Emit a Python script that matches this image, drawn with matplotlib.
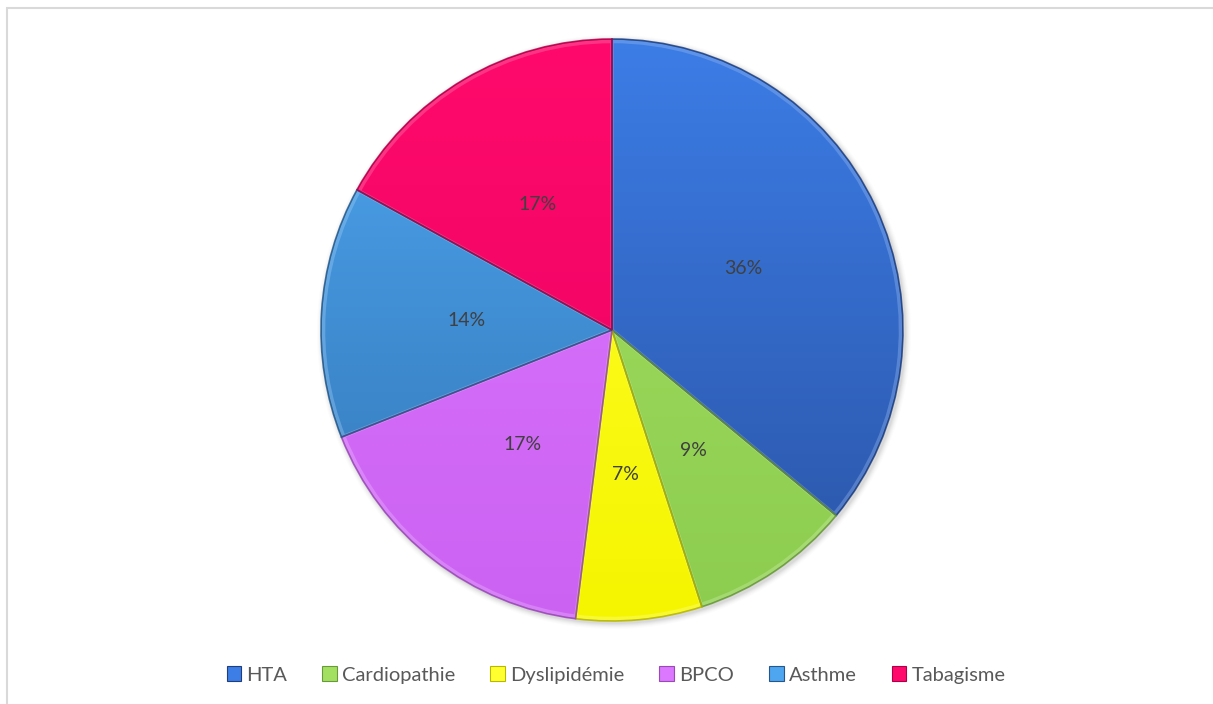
import numpy as np
import matplotlib
matplotlib.use("Agg")
import matplotlib.pyplot as plt
from matplotlib.colors import to_rgb, LinearSegmentedColormap
from matplotlib.patches import Rectangle, Patch, Circle, Wedge

categories = ["HTA", "Cardiopathie", "Dyslipidémie", "BPCO", "Asthme", "Tabagisme"]
shares = [36, 9, 7, 17, 14, 17]
colors_top = ["#3c7de6", "#a3e062", "#ffff30", "#db78ff", "#4ea6f0", "#ff0a6c"]
colors_bottom = ["#2a53a5", "#8ccc4e", "#f5f500", "#cc62f2", "#3274b5", "#e80060"]

W, H = 1213, 704
fig = plt.figure(figsize=(W / 100, H / 100), dpi=100)
ax = fig.add_axes([0, 0, 1, 1])

cx, cy, r = 612, 374, 291

# soft shadow under the pie
for k, a in zip(range(6, 0, -1), [0.015, 0.02, 0.03, 0.04, 0.05, 0.06]):
    ax.add_patch(Circle((cx + 2, cy - 2), r + k, color="0.3", alpha=a, lw=0, zorder=1))

wedges, texts = ax.pie(shares, center=(cx, cy), radius=r, startangle=90,
                       counterclock=False, labels=[f"{s}%" for s in shares],
                       labeldistance=0.5, frame=True,
                       wedgeprops=dict(linewidth=0))

grad = np.linspace(0, 1, 256).reshape(-1, 1)
for w, ct, cb in zip(wedges, colors_top, colors_bottom):
    w.set_facecolor(ct)
    w.set_zorder(2)
    cmap = LinearSegmentedColormap.from_list("g", [cb, ct])
    im = ax.imshow(grad, cmap=cmap, extent=(cx - r, cx + r, cy - r, cy + r),
                   origin="lower", aspect="auto", zorder=3, interpolation="bilinear")
    im.set_clip_path(w)
    # light inner bevel plus darker outline
    hi = 1 - (1 - np.array(to_rgb(ct))) * 0.5
    inner = Wedge(w.center, w.r - 2.5, w.theta1, w.theta2, fill=False,
                  edgecolor=hi, lw=2.5, alpha=0.35, zorder=4)
    ax.add_patch(inner)
    inner.set_clip_path(w)
    edge = np.array(to_rgb(cb)) * 0.72
    ax.add_patch(Wedge(w.center, w.r, w.theta1, w.theta2, fill=False,
                       edgecolor=edge, lw=1.2, alpha=0.8, zorder=5))

for t in texts:
    t.set_fontsize(14)
    t.set_color("#404040")
    t.set_family("Lato")
    t.set_zorder(6)
    t.set_ha("center")
    t.set_va("center")

ax.set_xlim(0, W)
ax.set_ylim(0, H)
ax.set_aspect("equal")
ax.axis("off")

# chart area border (only the top and left edges fall inside the image)
fig.patches.append(Rectangle((7 / W, -0.1), 1.2, (H - 8) / H + 0.1,
                             transform=fig.transFigure, fill=False,
                             edgecolor="#d9d9d9", lw=1.5))

handles = [Patch(facecolor=ct, edgecolor=np.array(to_rgb(cb)) * 0.75, lw=0.8)
           for ct, cb in zip(colors_top, colors_bottom)]
fig.legend(handles, categories, loc="center", bbox_to_anchor=(616 / W, 1 - 675 / H),
           ncol=6, frameon=False, handlelength=0.72, handleheight=0.72,
           handletextpad=0.25, columnspacing=1.75,
           prop=dict(family="Lato", size=14.5), labelcolor="#595959")

fig.savefig("out.png", dpi=100)
